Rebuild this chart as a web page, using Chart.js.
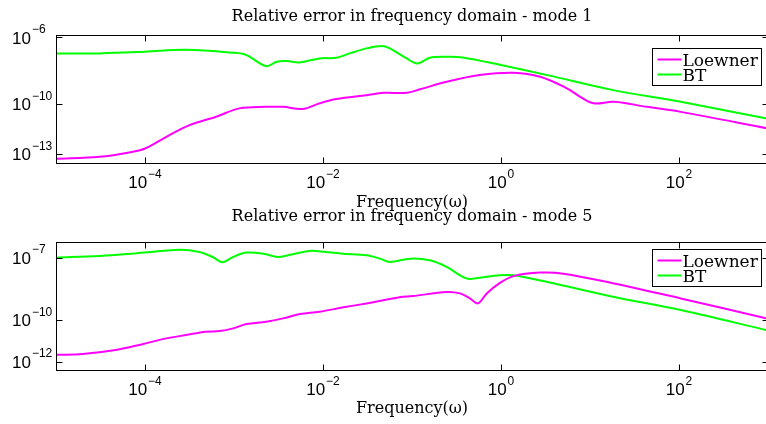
<!DOCTYPE html>
<html>
<head>
<meta charset="utf-8">
<script src="https://cdn.jsdelivr.net/npm/chart.js@4.4.0/dist/chart.umd.min.js"></script>
<style>
html, body { margin: 0; padding: 0; background: #fff; width: 766px; height: 424px; overflow: hidden; }
canvas { position: absolute; left: 0; }
#mode1 { top: 0; }
#mode5 { top: 200px; }
</style>
</head>
<body>
<canvas id="mode1" width="780" height="212"></canvas>
<canvas id="mode5" width="780" height="224"></canvas>
<script>
// values, as log10(frequency) and log10(relative error)
var seriesNames = ['Loewner', 'BT'];
var seriesColors = ['#ff00ff', '#00ff00'];
var xTickValues = [1e-4, 1e-2, 1, 1e2];

// mode 1
var m1LoewnerLogW = [-5, -4.51, -4.14, -4.0, -3.76, -3.50, -3.20, -2.94, -2.64, -2.45, -2.23, -2.04, -1.85, -1.51, -1.32, -1.06, -0.91, -0.61, -0.24, 0.14, 0.44, 0.74, 0.89, 1.04, 1.27, 1.64, 2.02, 3.0];
var m1LoewnerLogErr = [-13.27, -13.15, -12.85, -12.65, -11.95, -11.25, -10.75, -10.25, -10.16, -10.16, -10.29, -9.95, -9.69, -9.46, -9.32, -9.32, -9.11, -8.66, -8.26, -8.12, -8.36, -9.05, -9.56, -9.95, -9.86, -10.16, -10.46, -11.45];
var m1BTLogW = [-5, -4.51, -4.0, -3.54, -3.01, -2.86, -2.64, -2.52, -2.41, -2.26, -2.04, -1.85, -1.70, -1.51, -1.34, -1.25, -1.06, -0.94, -0.80, -0.61, -0.43, 0.0, 0.52, 1.26, 2.02, 3.0];
var m1BTLogErr = [-6.96, -6.96, -6.86, -6.74, -6.92, -7.06, -7.72, -7.46, -7.42, -7.50, -7.26, -7.22, -6.96, -6.66, -6.52, -6.66, -7.26, -7.56, -7.22, -7.16, -7.20, -7.66, -8.26, -9.16, -9.86, -10.87];
var m1YTicks = [1e-6, 1e-10, 1e-13];

// mode 5
var m5LoewnerLogW = [-5, -4.70, -4.33, -4.03, -3.76, -3.54, -3.32, -3.16, -3.01, -2.86, -2.64, -2.45, -2.26, -2.04, -1.77, -1.51, -1.14, -0.99, -0.61, -0.46, -0.35, -0.26, -0.16, -0.02, 0.14, 0.44, 0.70, 1.27, 2.02, 3.0];
var m5LoewnerLogErr = [-11.67, -11.63, -11.44, -11.16, -10.88, -10.72, -10.56, -10.53, -10.40, -10.19, -10.08, -9.92, -9.71, -9.60, -9.39, -9.20, -8.91, -8.85, -8.65, -8.72, -8.96, -9.20, -8.72, -8.24, -7.89, -7.72, -7.77, -8.24, -8.96, -9.94];
var m5BTLogW = [-5, -4.51, -4.0, -3.61, -3.39, -3.24, -3.13, -3.01, -2.86, -2.67, -2.51, -2.37, -2.15, -1.97, -1.78, -1.51, -1.36, -1.25, -1.02, -0.80, -0.61, -0.39, -0.24, -0.02, 0.14, 0.52, 1.27, 2.02, 3.0];
var m5BTLogErr = [-7.0, -6.92, -6.76, -6.62, -6.73, -6.97, -7.22, -6.97, -6.76, -6.81, -6.97, -6.86, -6.68, -6.73, -6.81, -6.89, -7.05, -7.21, -7.05, -7.13, -7.45, -8.0, -7.97, -7.85, -7.85, -8.17, -8.89, -9.52, -10.5];
var m5YTicks = [1e-7, 1e-10, 1e-12];

function toPoints(logW, logErr) {
	return logW.map(function (w, i) {
		return { x: Math.pow(10, w), y: Math.pow(10, logErr[i]) };
	});
}

var serif = '"DejaVu Serif", "Liberation Serif", serif';
var sans = '"Liberation Sans", Arial, sans-serif';

// "10" with a raised exponent, like the matlab log axis labels
function drawPow(ctx, value, x, y, mode) {
	var exp = Math.round(Math.log10(value));
	var expStr = String(exp).replace('-', '\u2212');
	ctx.font = '17px ' + sans;
	var wBase = ctx.measureText('10').width;
	ctx.font = '12px ' + sans;
	var wExp = ctx.measureText(expStr).width;
	var left, baseY, expY;
	if (mode === 'x') {
		left = x - (wBase + 1 + wExp) / 2;
		baseY = y + 20.5;
		expY = y + 12;
	} else {
		left = x;
		baseY = y + 1.5;
		expY = y - 7.5;
	}
	ctx.textAlign = 'left';
	ctx.textBaseline = 'middle';
	ctx.font = '17px ' + sans;
	ctx.fillText('10', left, baseY);
	ctx.font = '12px ' + sans;
	ctx.fillText(expStr, left + wBase + 1, expY);
}

var matlabAxes = {
	id: 'matlabAxes',
	afterDraw: function (chart, args, opts) {
		var ctx = chart.ctx;
		var a = chart.chartArea;
		var xs = chart.scales.x, ys = chart.scales.y;
		var L = Math.round(a.left) + 0.5, R = Math.round(a.right) + 0.5;
		var T = Math.round(a.top) + 0.5, B = Math.round(a.bottom) + 0.5;
		ctx.save();
		ctx.strokeStyle = '#000';
		ctx.fillStyle = '#000';
		ctx.lineWidth = 1;

		// ticks pointing inwards, all four sides
		ctx.beginPath();
		xTickValues.forEach(function (v) {
			var px = Math.round(xs.getPixelForValue(v)) + 0.5;
			ctx.moveTo(px, B); ctx.lineTo(px, B - 6);
			ctx.moveTo(px, T); ctx.lineTo(px, T + 6);
		});
		opts.yTicks.forEach(function (v) {
			var py = Math.round(ys.getPixelForValue(v)) + 0.5;
			ctx.moveTo(L, py); ctx.lineTo(L + 6, py);
			ctx.moveTo(R, py); ctx.lineTo(R - 6, py);
		});
		ctx.stroke();
		ctx.strokeRect(L, T, R - L, B - T);

		xTickValues.forEach(function (v) {
			drawPow(ctx, v, xs.getPixelForValue(v), a.bottom, 'x');
		});
		opts.yTicks.forEach(function (v) {
			drawPow(ctx, v, 12, ys.getPixelForValue(v), 'y');
		});

		// title
		ctx.font = '16px ' + serif;
		ctx.textAlign = 'center';
		ctx.textBaseline = 'alphabetic';
		ctx.fillText(opts.title, (a.left + a.right) / 2, 21);

		// legend box
		var bw = 109, bh = 37;
		var bx = Math.round(a.right - 7 - bw) + 0.5, by = Math.round(opts.legendTop) + 0.5;
		ctx.fillStyle = '#fff';
		ctx.fillRect(bx, by, bw, bh);
		ctx.strokeStyle = '#000';
		ctx.strokeRect(bx, by, bw, bh);
		ctx.font = '17px ' + serif;
		ctx.textAlign = 'left';
		chart.data.datasets.forEach(function (ds, i) {
			var ly = by + 11 + i * 15;
			ctx.strokeStyle = ds.borderColor;
			ctx.lineWidth = 2;
			ctx.beginPath();
			ctx.moveTo(bx + 5, ly); ctx.lineTo(bx + 29, ly);
			ctx.stroke();
			ctx.fillStyle = '#000';
			ctx.fillText(ds.label, bx + 30, ly + 6.5);
		});
		ctx.restore();
	}
};

function makeChart(id, title, series, yMin, yMax, yTicks, padTop, xAxisH, xTitlePad, legendTop) {
	var ctx = document.getElementById(id).getContext('2d');
	return new Chart(ctx, {
		type: 'line',
		data: {
			datasets: series.map(function (pts, i) {
				return {
					label: seriesNames[i],
					data: pts,
					borderColor: seriesColors[i],
					backgroundColor: seriesColors[i],
					borderWidth: 2,
					pointRadius: 0,
					tension: 0.35,
					fill: false
				};
			})
		},
		options: {
			responsive: false,
			animation: false,
			devicePixelRatio: 1,
			layout: { padding: { top: padTop, right: 12, bottom: 0, left: 0 } },
			plugins: {
				legend: { display: false },
				title: { display: false },
				tooltip: { enabled: false },
				matlabAxes: { title: title, yTicks: yTicks, legendTop: legendTop }
			},
			scales: {
				x: {
					type: 'logarithmic',
					min: 1e-5,
					max: 1e3,
					grid: { display: false },
					border: { display: false },
					ticks: { display: false },
					title: {
						display: true,
						text: 'Frequency(\u03c9)',
						color: '#000',
						font: { family: serif, size: 16 },
						padding: { top: 0, bottom: xTitlePad }
					},
					afterFit: function (s) { s.height = xAxisH; }
				},
				y: {
					type: 'logarithmic',
					min: yMin,
					max: yMax,
					grid: { display: false },
					border: { display: false },
					ticks: { display: false },
					afterFit: function (s) { s.width = 56; }
				}
			}
		},
		plugins: [matlabAxes]
	});
}

var chartMode1 = makeChart('mode1', 'Relative error in frequency domain - mode 1',
	[toPoints(m1LoewnerLogW, m1LoewnerLogErr), toPoints(m1BTLogW, m1BTLogErr)],
	Math.pow(10, -13.52), Math.pow(10, -5.86), m1YTicks, 35, 49, 0, 47.5);

var chartMode5 = makeChart('mode5', 'Relative error in frequency domain - mode 5',
	[toPoints(m5LoewnerLogW, m5LoewnerLogErr), toPoints(m5BTLogW, m5BTLogErr)],
	Math.pow(10, -12.40), Math.pow(10, -6.25), m5YTicks, 42, 54, 5.4, 49.3);
</script>
</body>
</html>
